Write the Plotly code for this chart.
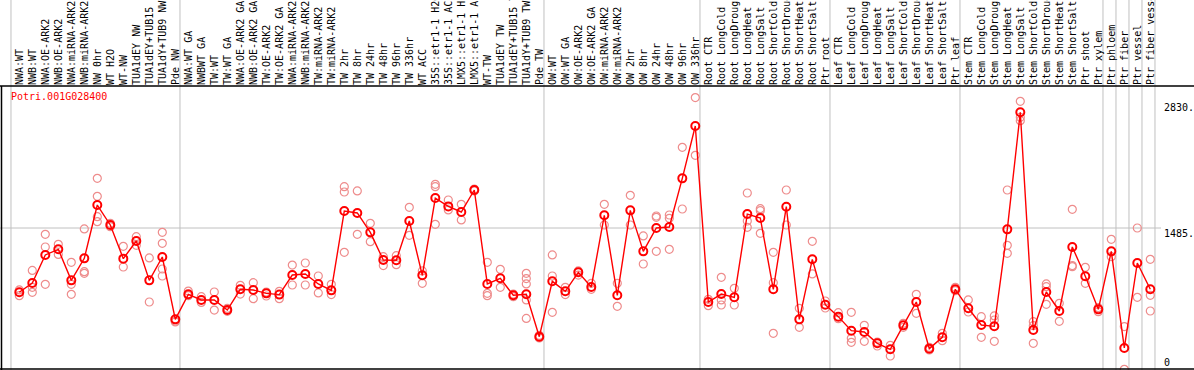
import plotly.graph_objects as go

# ---------------- data ----------------
labels = [
    "NWA:WT", "NWB:WT", "NWA:OE-ARK2", "NWB:OE-ARK2", "NWA:miRNA-ARK2", "NWB:miRNA-ARK2",
    "NW 0hr", "WT H2O", "WT-NW", "TUA1dEY NW", "TUA1dEY+TUB15 NW", "TUA1dY+TUB9 NW", "Pde NW",
    "NWA:WT GA", "NWBWT GA", "TW:WT", "TW:WT GA", "NWA:OE-ARK2 GA", "NWB:OE-ARK2 GA",
    "TW:OE-ARK2", "TW:OE-ARK2 GA", "NWA:miRNA-ARK2", "NWB:miRNA-ARK2", "TW:miRNA-ARK2",
    "TW:miRNA-ARK2", "TW 2hr", "TW 8hr", "TW 24hr", "TW 48hr", "TW 96hr", "TW 336hr", "WT ACC",
    "35S::etr1-1 H2O", "35S::etr1-1 ACC", "LMX5::etr1-1 H2O", "LMX5::etr1-1 ACC", "WT-TW",
    "TUA1dEY TW", "TUA1dEY+TUB15 TW", "TUA1dY+TUB9 TW", "Pde TW",
    "OW:WT", "OW:WT GA", "OW:OE-ARK2", "OW:OE-ARK2 GA", "OW:miRNA-ARK2", "OW:miRNA-ARK2",
    "OW 2hr", "OW 8hr", "OW 24hr", "OW 48hr", "OW 96hr", "OW 336hr",
    "Root CTR", "Root LongCold", "Root LongDrought", "Root LongHeat", "Root LongSalt",
    "Root ShortCold", "Root ShortDrought", "Root ShortHeat", "Root ShortSalt", "Ptr root",
    "Leaf CTR", "Leaf LongCold", "Leaf LongDrought", "Leaf LongHeat", "Leaf LongSalt",
    "Leaf ShortCold", "Leaf ShortDrought", "Leaf ShortHeat", "Leaf ShortSalt", "Ptr leaf",
    "Stem CTR", "Stem LongCold", "Stem LongDrought", "Stem LongHeat", "Stem LongSalt",
    "Stem ShortCold", "Stem ShortDrought", "Stem ShortHeat", "Stem ShortSalt", "Ptr shoot",
    "Ptr xylem",
    "Ptr phloem", "Ptr fiber", "Ptr vessel", "Ptr fiber vessel",
]

group_starts = [0, 13, 41, 53, 63, 73, 84, 85, 86, 87, 88]

means = [
    822, 918, 1207, 1265, 945, 1172, 1722, 1516, 1169, 1351, 945, 1186, 543,
    801, 743, 743, 639, 853, 846, 811, 798, 1000, 1011, 908, 842, 1660, 1640, 1440,
    1155, 1152, 1557, 997, 1794, 1708, 1650, 1877, 908, 966, 791, 801, 364,
    935, 832, 1028, 877, 1616, 791, 1667, 1244, 1485, 1495, 1997, 2537,
    722, 804, 770, 1629, 1588, 853, 1705, 543, 1162, 694,
    571, 426, 413, 296, 234, 481, 722, 241, 358, 853,
    657, 485, 471, 1471, 2678, 433, 825, 629, 1289, 987, 646,
    1244, 248, 1124, 853,
]

replicates = [
    [846, 787], [1048, 873, 822], [1420, 1289, 904], [1317, 1213], [1131, 904, 801],
    [1475, 1035, 1018], [1997, 1812, 1602, 1550], [1533, 1499], [1296, 1083], [1396, 1306],
    [1176, 722], [1440, 1327, 1062, 990], [526, 516],
    [835, 787], [777, 718], [825, 639], [657, 626], [894, 804], [921, 756], [825, 784],
    [832, 756], [1103, 897], [1124, 897], [990, 815], [904, 798], [1911, 1856, 1234],
    [1867, 1420], [1533, 1344], [1189, 1097], [1200, 1107], [1698, 1409], [1042, 914],
    [1935, 1911, 1523], [1774, 1671], [1729, 1568], [1887, 1867], [1131, 811, 787],
    [1059, 873], [804, 777], [1018, 963, 908, 743, 553], [378, 351],
    [1207, 990, 615], [873, 798], [1042, 1000], [914, 853], [1729, 1516], [914, 677],
    [1822, 1516], [1403, 1114], [1609, 1595, 1244], [1619, 1585, 1265], [2317, 1681],
    [2830, 2234],
    [749, 684], [976, 743, 691], [863, 691], [1846, 1557, 1492], [1684, 1664, 1430],
    [1234, 921, 399], [1877, 1516], [657, 461], [1348, 1011], [732, 660],
    [612, 550], [615, 347, 306], [481, 316], [309, 268], [275, 165], [502, 461], [801, 605],
    [254, 227], [399, 323], [873, 839],
    [743, 619], [571, 358], [578, 536, 316], [1877, 1306, 1224], [2791, 2626, 2592],
    [519, 478, 296], [908, 880, 698], [708, 523], [1678, 1097, 1086], [1079, 914], [663, 622],
    [1368, 1189], [468, 28], [1485, 770], [1162, 791, 629],
]

title_text = "Potri.001G028400"
tick_values = [2830, 1485, 0]
tick_texts = ["2830.", "1485.", "0"]

# ---------------- figure ----------------
idx = list(range(len(labels)))
rep_x = [i for i, reps in enumerate(replicates) for _ in reps]
rep_y = [v for reps in replicates for v in reps]

RED = "#ff0000"
PALE = "rgb(238,140,140)"
GRID = "#c0c0c0"
FONT = "DejaVu Sans Mono"

fig = go.Figure()
fig.add_trace(go.Scatter(
    x=rep_x, y=rep_y, mode="markers",
    marker=dict(symbol="circle-open", size=8, color=PALE, line=dict(width=1.2, color=PALE)),
    hoverinfo="skip",
))
fig.add_trace(go.Scatter(
    x=idx, y=means, mode="lines+markers",
    line=dict(color=RED, width=1.4),
    marker=dict(symbol="circle-open", size=8, color=RED, line=dict(width=2, color=RED)),
))

W, H = 1194, 370
TOP = 86
px_per_unit = 144 / 1485.0
y_lo = 2 / px_per_unit
y_hi = y_lo + (H - TOP) / px_per_unit
x0_px, step_px = 19.3, 13.0
x_lo = (0 - x0_px) / step_px
x_hi = (W - x0_px) / step_px

shapes = []
# group separators (through label area)
for g in group_starts:
    xs = g - 0.64
    shapes.append(dict(type="line", xref="x", yref="paper", x0=xs, x1=xs,
                       y0=0, y1=H / (H - TOP), line=dict(color=GRID, width=1), layer="below"))
# horizontal middle gridline
shapes.append(dict(type="line", xref="paper", yref="y", x0=0, x1=1161 / W,
                   y0=tick_values[1], y1=tick_values[1], line=dict(color=GRID, width=1), layer="below"))
# black frame
shapes.append(dict(type="line", xref="paper", yref="paper", x0=0, x1=1, y0=1, y1=1,
                   line=dict(color="black", width=1.5)))
shapes.append(dict(type="line", xref="paper", yref="paper", x0=0, x1=1,
                   y0=1 / (H - TOP), y1=1 / (H - TOP), line=dict(color="black", width=1.5)))
shapes.append(dict(type="line", xref="paper", yref="paper", x0=1.5 / W, x1=1.5 / W, y0=0, y1=1,
                   line=dict(color="black", width=1.5)))

annotations = [
    dict(text=title_text, xref="paper", yref="paper", x=8.5 / W, y=(H - 97) / (H - TOP),
         xanchor="left", yanchor="middle", showarrow=False,
         font=dict(family=FONT, size=10, color=RED)),
    dict(text=tick_texts[0], xref="paper", yref="y", x=1162 / W, y=tick_values[0],
         xanchor="left", yanchor="middle", yshift=-10, showarrow=False,
         font=dict(family=FONT, size=10, color="black")),
    dict(text=tick_texts[1], xref="paper", yref="y", x=1162 / W, y=tick_values[1],
         xanchor="left", yanchor="middle", yshift=-5, showarrow=False,
         font=dict(family=FONT, size=10, color="black")),
    dict(text=tick_texts[2], xref="paper", yref="paper", x=1162 / W, y=(H - 362) / (H - TOP),
         xanchor="left", yanchor="middle", showarrow=False,
         font=dict(family=FONT, size=10, color="black")),
]

fig.update_layout(
    template="none",
    width=W, height=H,
    margin=dict(l=0, r=0, t=TOP, b=0, pad=0),
    paper_bgcolor="white", plot_bgcolor="white",
    showlegend=False,
    shapes=shapes,
    annotations=annotations,
    xaxis=dict(range=[x_lo, x_hi], side="top", tickmode="array", tickvals=idx, ticktext=labels,
               tickangle=-90, tickfont=dict(family=FONT, size=10, color="black"),
               showgrid=False, zeroline=False, showline=False, ticks="", automargin=False,
               fixedrange=True),
    yaxis=dict(range=[y_lo, y_hi], showticklabels=False, showgrid=False, zeroline=False,
               showline=False, ticks="", automargin=False, fixedrange=True),
)

fig.write_html(
    "out.html",
    config={"displayModeBar": False},
    post_script="document.body.style.margin='0';document.body.style.overflow='hidden';",
)
